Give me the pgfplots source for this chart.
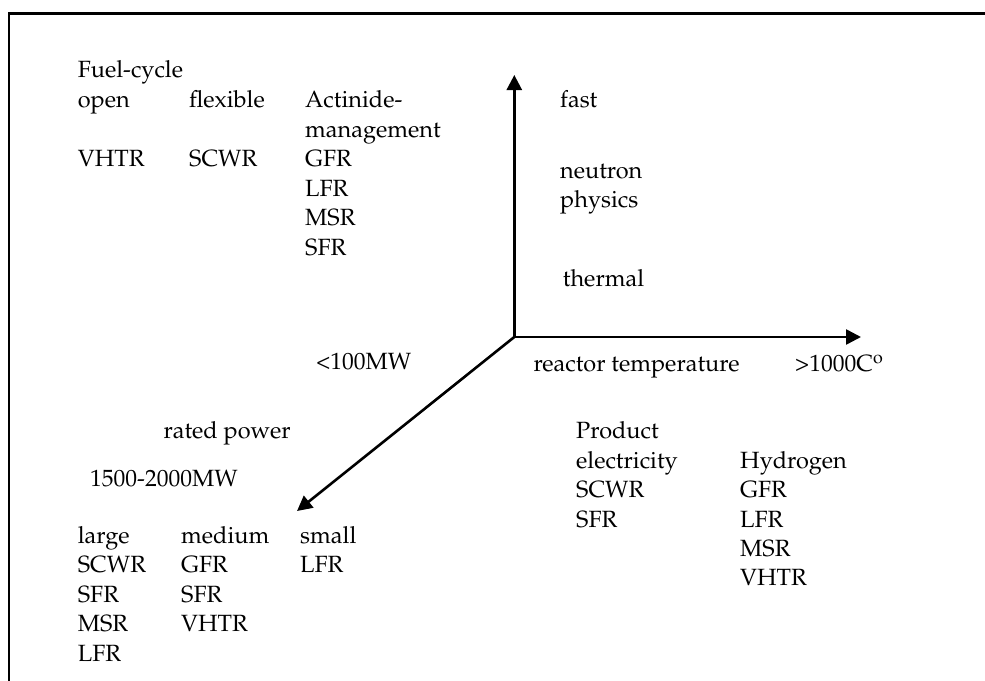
\documentclass[border=0pt]{standalone}
\usepackage[T1]{fontenc}
\usepackage{mathpazo}
\usepackage{pgfplots}
\pgfplotsset{compat=1.18}
\usetikzlibrary{arrows.meta}
\tikzset{t/.style={anchor=base west, inner sep=0pt, font=\fontsize{23.5}{29.5}\selectfont}}
\begin{document}
\begin{tikzpicture}
\begin{axis}[name=ax,
  width=985pt, height=680pt, scale only axis,
  xmin=0, xmax=985, ymin=0, ymax=680, y dir=reverse,
  hide axis, clip=false,
]
% frame
\addplot[black, line width=2.5pt, line cap=rect] coordinates {(9,680) (9,13.5) (985,13.5)};
% axes arrows
\addplot[black, line width=2.6pt, -{Triangle[length=15pt,width=15pt]}] coordinates {(514.3,337) (514.3,75)};
\addplot[black, line width=2.6pt, -{Triangle[length=15pt,width=15pt]}] coordinates {(514.3,337) (861,337)};
\addplot[black, line width=2.6pt, -{Triangle[length=15pt,width=15pt]}] coordinates {(514.3,337) (297,511)};
% fuel cycle block
\node[t] at (axis cs:77.7,77) {Fuel-cycle};
\node[t] at (axis cs:77.7,107.5) {open};
\node[t] at (axis cs:189,107.5) {flexible};
\node[t] at (axis cs:305,107.5) {Actinide-};
\node[t] at (axis cs:305,137) {management};
\node[t] at (axis cs:77.7,166.7) {VHTR};
\node[t] at (axis cs:189,166.7) {SCWR};
\node[t] at (axis cs:305,166.7) {GFR};
\node[t] at (axis cs:305,196) {LFR};
\node[t] at (axis cs:305,225.5) {MSR};
\node[t] at (axis cs:305,255) {SFR};
% neutron physics
\node[t] at (axis cs:560,107.5) {fast};
\node[t] at (axis cs:560,178.5) {neutron};
\node[t] at (axis cs:560,207.5) {physics};
\node[t] at (axis cs:562.7,286) {thermal};
% temperature
\node[t] at (axis cs:533.3,371.7) {reactor temperature};
\node[t] at (axis cs:795,371.7) {>1000C\textsuperscript{o}};
\node[t] at (axis cs:316,369.5) {<100MW};
% product
\node[t] at (axis cs:576,438.3) {Product};
\node[t] at (axis cs:576,468.3) {electricity};
\node[t] at (axis cs:740,468.3) {Hydrogen};
\node[t] at (axis cs:576,497.5) {SCWR};
\node[t] at (axis cs:576,527.3) {SFR};
\node[t] at (axis cs:740,497.5) {GFR};
\node[t] at (axis cs:740,527.3) {LFR};
\node[t] at (axis cs:740,556.7) {MSR};
\node[t] at (axis cs:740,585.5) {VHTR};
% rated power
\node[t] at (axis cs:163.3,438.3) {rated power};
\node[t] at (axis cs:90,486) {1500-2000MW};
\node[t] at (axis cs:77.7,543.3) {large};
\node[t] at (axis cs:181,543.3) {medium};
\node[t] at (axis cs:300,543.3) {small};
\node[t] at (axis cs:77.7,572.7) {SCWR};
\node[t] at (axis cs:77.7,602.7) {SFR};
\node[t] at (axis cs:77.7,631.7) {MSR};
\node[t] at (axis cs:77.7,661.7) {LFR};
\node[t] at (axis cs:181,572.7) {GFR};
\node[t] at (axis cs:181,602.7) {SFR};
\node[t] at (axis cs:181,631.7) {VHTR};
\node[t] at (axis cs:300,572.7) {LFR};
\end{axis}
\pgfresetboundingbox
\path (ax.south west) rectangle (ax.north east);
\end{tikzpicture}
\end{document}
